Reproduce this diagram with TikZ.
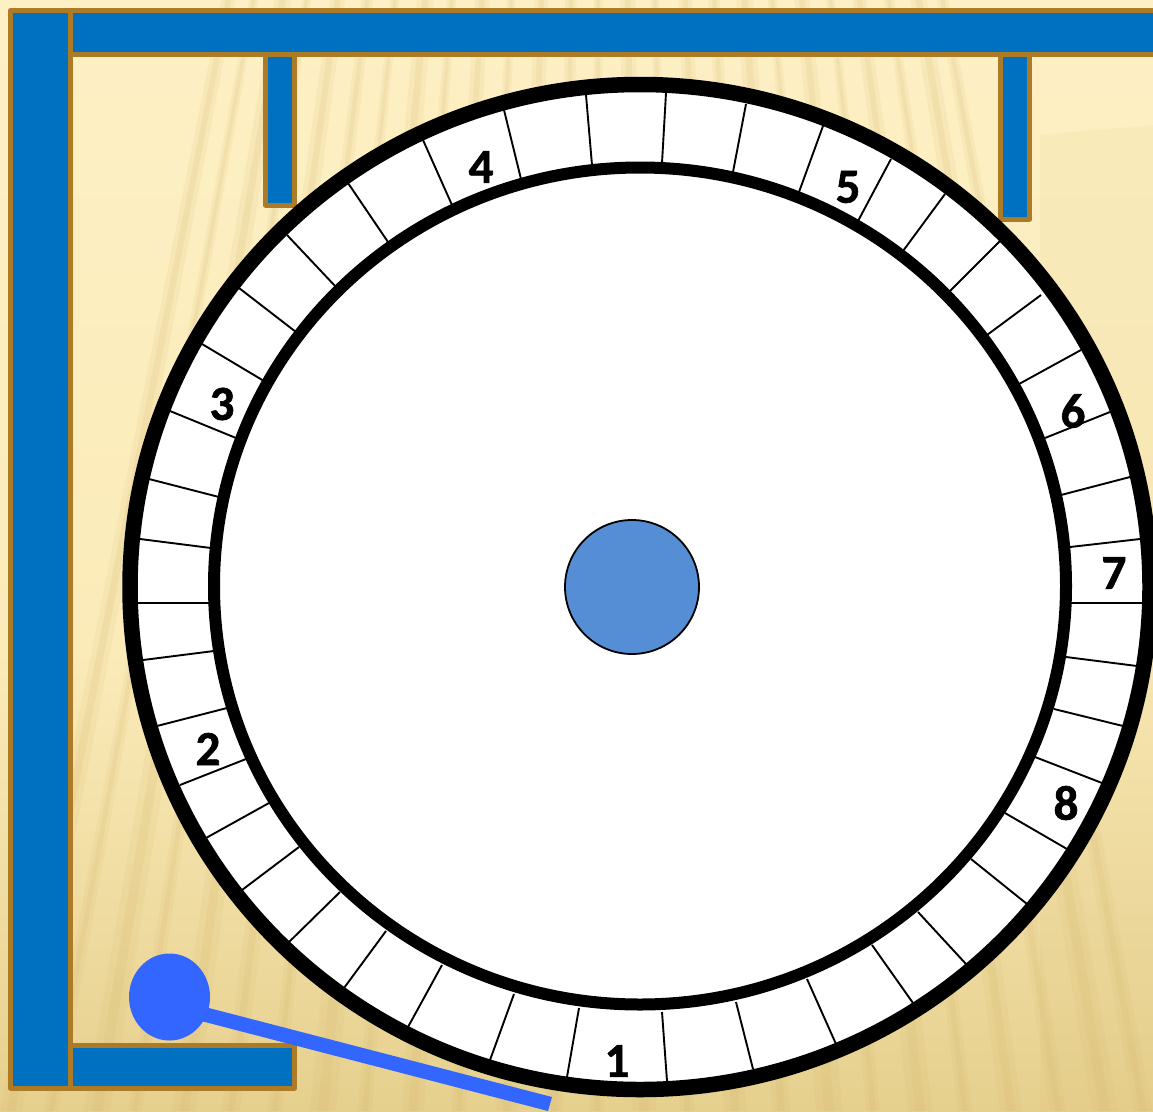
\documentclass[tikz,border=0pt]{standalone}
\usepackage{fontspec}
\usetikzlibrary{shapes.geometric}
\setmainfont{Carlito}[BoldFeatures={FakeBold=1.3}]
\definecolor{wallblue}{HTML}{0070C0}
\definecolor{wallbrown}{HTML}{AD7A25}
\definecolor{hubblue}{HTML}{558ED5}
\definecolor{pendblue}{HTML}{3366FF}
\definecolor{bgtop}{HTML}{FDF0C4}
\definecolor{bgmid}{HTML}{FBEBB9}
\definecolor{bgbot}{HTML}{E6D08E}
\definecolor{stripe}{HTML}{D2B266}
\tikzset{
  wall/.style={draw=wallbrown,fill=wallblue,line width=5pt,line join=round},
  ringouter/.style={draw=black,line width=15.5pt,fill=white},
  ringinner/.style={draw=black,line width=12pt,fill=white},
  spoke/.style={draw=black,line width=1.9pt},
  hubdisc/.style={draw=black,line width=1.8pt,fill=hubblue},
  pend/.style={fill=pendblue},
  numlabel/.style={font=\bfseries\fontsize{49}{49}\selectfont,text=black,inner sep=0pt,anchor=center},
  grain/.style={fill=stripe,opacity=0.10},
  grainb/.style={fill=stripe,opacity=0.14}
}
\begin{document}
\begin{tikzpicture}[x=1pt,y=-1pt]
\useasboundingbox (0,0) rectangle (1153,1111);
\clip (0,0) rectangle (1153,1111);
% background
\shade[top color=bgtop,bottom color=bgmid] (0,0) rectangle (1153,650);
\shade[top color=bgmid,bottom color=bgbot] (0,650) rectangle (1153,1111);
\fill[stripe,opacity=0.08] (1040,135) -- (1153,125) -- (1153,1111) -- (1040,1111) -- cycle;
\foreach \a/\w in {0/22,44/14,84/26,128/14,172/24,222/18,268/14,310/26,358/14,402/22,452/14,496/22,545/18,590/14,632/24,680/14,724/22,772/18,816/26,866/14,908/24,958/14,1000/22,1050/16,1092/26,1134/18}{
  \fill[grain] (600,-1900) -- (\a,1111) -- ({\a+\w},1111) -- cycle;
  \fill[grainb] (600,-1900) -- ({\a+0.3*\w},1111) -- ({\a+0.7*\w},1111) -- cycle;
}
% walls
\draw[wall] (10.5,10.5) rectangle (70,1088);
\draw[wall] (70,10.5) rectangle (1175,54.5);
\draw[wall] (265.5,54.5) rectangle (294.5,205);
\draw[wall] (1000.5,54.5) rectangle (1029.5,219);
\draw[wall] (70,1045.5) rectangle (294.5,1088);
% wheel
\path[ringouter] (640,587) ellipse [x radius=510,y radius=502.5];
\foreach \xa/\ya/\xb/\yb in {
592/165/586/95,662/163/666/93,733/172/746/104,799/192/823/126,858/221/891/159,
903/251/945/194,949/292/1000/241,987/335/1041/295,1019/384/1081/350,1045/438/1110/412,
1061/495/1130/477,1070/547/1140/539,1070/603/1142/603,1066/657/1137/666,1054/709/1123/726,
1035/757/1102/783,1005/813/1067/849,971/859/1027/904,918/912/966/964,872/945/913/1003,
807/979/836/1044,736/1002/753/1069,662/1012/667/1081,579/1008/567/1077,514/994/490/1060,
442/965/408/1027,386/931/344/988,340/892/289/942,299/847/242/890,269/803/206/838,
246/759/180/785,227/708/157/726,214/651/143/660,209/603/138/603,211/548/140/539,
219/497/149/479,236/438/170/411,264/381/202/344,296/332/239/288,336/287/287/235,
388/242/348/183,452/205/423/140,521/179/504/110}{
  \draw[spoke] (\xa,\ya) -- (\xb,\yb);
}
\path[ringinner] (640,586) ellipse [x radius=426,y radius=418.5];
\node[hubdisc,circle,minimum size=134pt,inner sep=0pt] (hub) at (632,587) {};
% pendulum
\fill[pend] (207,1007.5) -- (552,1097) -- (548,1111) -- (203,1021.5) -- cycle;
\node[pend,ellipse,minimum width=81pt,minimum height=87pt,inner sep=0pt] (bob) at (169.5,997) {};
% labels
\node[numlabel] (n1) at (617,1061) {1};
\node[numlabel] (n2) at (208,749) {2};
\node[numlabel] (n3) at (222,404) {3};
\node[numlabel] (n4) at (481,167) {4};
\node[numlabel] (n5) at (848,187) {5};
\node[numlabel] (n6) at (1073,411) {6};
\node[numlabel] (n7) at (1114,573) {7};
\node[numlabel] (n8) at (1066,803) {8};
\end{tikzpicture}
\end{document}
